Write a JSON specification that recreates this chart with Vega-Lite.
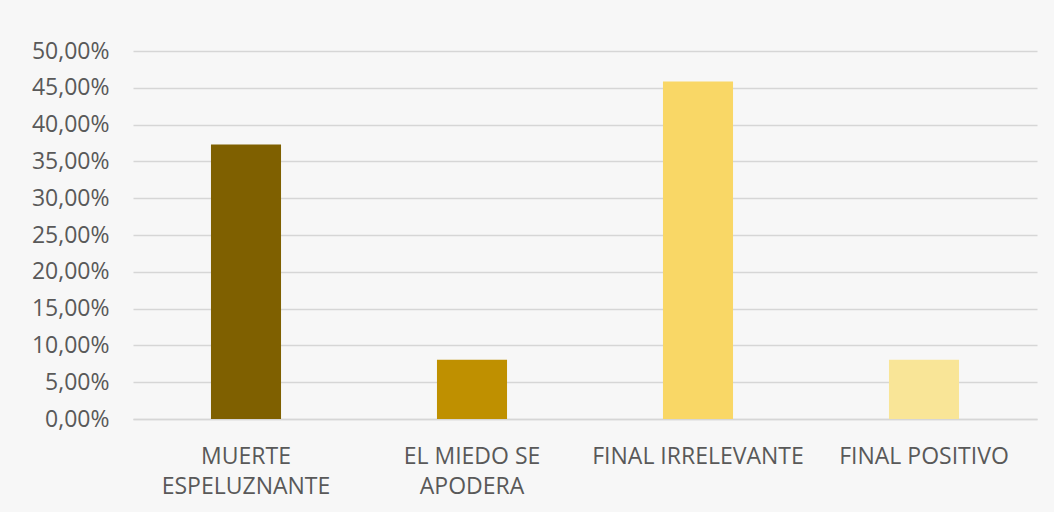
{
  "$schema": "https://vega.github.io/schema/vega-lite/v6.json",
  "width": 904,
  "height": 368,
  "autosize": {"type": "none"},
  "padding": {"left": 133, "top": 51, "right": 17, "bottom": 93},
  "background": "#f7f7f7",
  "data": {
    "values": [
      {"categoria": "MUERTE ESPELUZNANTE", "valor": 0.3729},
      {"categoria": "EL MIEDO SE APODERA", "valor": 0.0805},
      {"categoria": "FINAL IRRELEVANTE", "valor": 0.4585},
      {"categoria": "FINAL POSITIVO", "valor": 0.0805}
    ]
  },
  "mark": {"type": "bar"},
  "encoding": {
    "x": {
      "field": "categoria",
      "type": "nominal",
      "sort": null,
      "scale": {"paddingInner": 0.69, "paddingOuter": 0.345},
      "axis": {
        "title": null,
        "labelAngle": 0,
        "ticks": false,
        "domain": true,
        "domainColor": "#d6d6d6",
        "domainWidth": 1.5,
        "labelPadding": 26,
        "labelBaseline": "top",
        "labelLineHeight": 30,
        "labelFont": "Open Sans",
        "labelFontSize": 23,
        "labelColor": "#595959",
        "labelLimit": 0,
        "labelExpr": "datum.label == 'MUERTE ESPELUZNANTE' ? ['MUERTE', 'ESPELUZNANTE'] : datum.label == 'EL MIEDO SE APODERA' ? ['EL MIEDO SE', 'APODERA'] : datum.label"
      }
    },
    "y": {
      "field": "valor",
      "type": "quantitative",
      "scale": {"domain": [0, 0.5], "nice": false},
      "axis": {
        "title": null,
        "values": [0, 0.05, 0.1, 0.15, 0.2, 0.25, 0.3, 0.35, 0.4, 0.45, 0.5],
        "grid": true,
        "gridColor": "#d6d6d6",
        "gridWidth": 1.5,
        "domain": false,
        "ticks": false,
        "labelPadding": 24,
        "labelFont": "Open Sans",
        "labelFontSize": 23,
        "labelColor": "#595959",
        "labelExpr": "replace(format(datum.value, '.2%'), '.', ',')"
      }
    },
    "color": {
      "field": "categoria",
      "type": "nominal",
      "sort": null,
      "scale": {"range": ["#7f6000", "#bf9000", "#f9d766", "#f9e597"]},
      "legend": null
    }
  },
  "config": {"view": {"stroke": null}}
}
